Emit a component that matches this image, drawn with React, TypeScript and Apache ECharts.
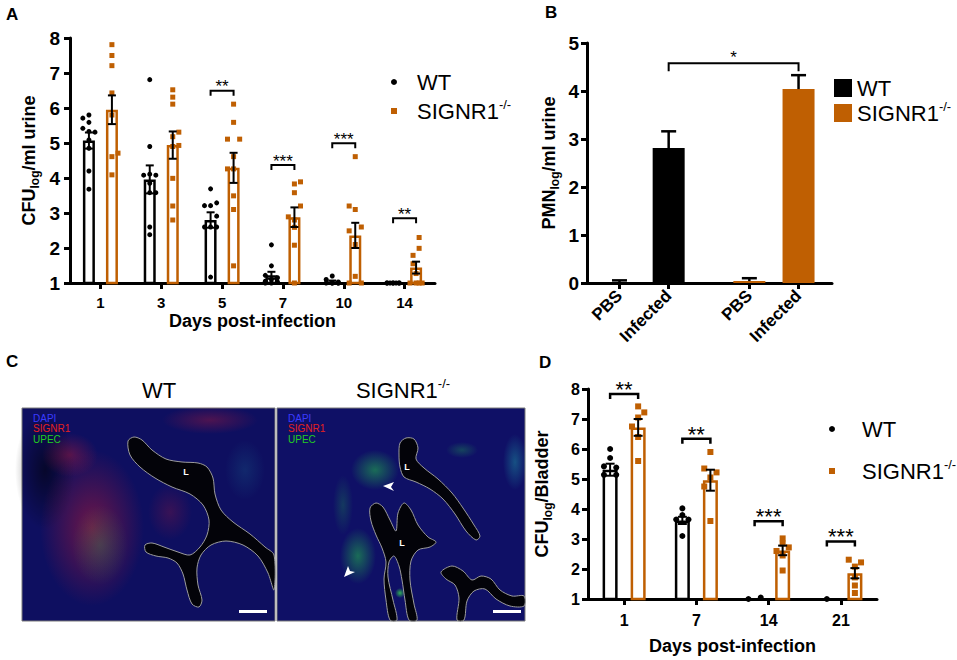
import React, { useEffect, useRef } from "react";
import * as echarts from "echarts";

const FONT = "'Liberation Sans', Arial, Helvetica, sans-serif";
const INK = "#000000";
const ORANGE = "#BF5F02";
const SQUARE_ICON = "path://M0 0H10V10H0Z";

// ---------- Panel A: CFU in urine ----------
const A_DAYS = ["1", "3", "5", "7", "10", "14"];
const A_WT_MEAN = [5.07, 3.96, 2.8, 1.22, 1.04, 1.0];
const A_WT_SEM = [0.23, 0.4, 0.22, 0.1, 0.03, 0];
const A_KO_MEAN = [5.95, 4.94, 4.29, 2.88, 2.36, 1.44];
const A_KO_SEM = [0.41, 0.39, 0.43, 0.28, 0.36, 0.17];
// [value, jitter step]
const A_WT_POINTS = [
  [[5.8, 0], [5.71, -1], [5.59, 0], [5.42, -1], [5.33, 0], [5.31, 1], [5.09, 0], [4.85, 0], [4.2, 0], [3.68, 0]],
  [[6.81, 0], [4.9, 0], [4.11, 0], [4.08, -1], [4.08, 1], [3.85, 0], [3.58, 0], [3.58, 1], [2.6, 0], [2.38, 0]],
  [[3.69, 0], [3.29, 1], [3.21, -1], [3.21, 0], [2.91, 1], [2.6, -1], [2.6, 0], [2.6, 1], [1.17, 0]],
  [[2.09, 0], [1.49, 0], [1.22, -1], [1.15, 1], [1.1, 0], [1.05, -1], [1.03, 1], [1.0, 0], [1.0, -1]],
  [[1.2, 0], [1.1, -1], [1.03, 1], [1.0, 0], [1.0, -1], [1.0, 1], [1.0, 0], [1.0, 1]],
  [[1.0, -1], [1.0, -0.5], [1.0, 0], [1.0, 0.5], [1.0, 1], [1.0, -1], [1.0, 0], [1.0, 1]],
];
const A_KO_POINTS = [
  [[7.81, 0], [7.5, 0], [7.21, 0], [6.43, 0], [5.8, 0], [4.71, 1], [4.61, 0], [4.09, 0]],
  [[6.52, 0], [6.31, 0], [6.11, 0], [5.31, 1], [5.18, 0], [4.93, 1], [4.9, 0], [3.99, 0], [3.2, 0], [2.8, 0]],
  [[6.11, 0], [5.59, 0], [5.11, -1], [5.11, 1], [4.61, 0], [4.26, -1], [4.26, 0], [3.49, 0], [3.1, 0], [1.49, 0]],
  [[3.89, 1], [3.83, 0], [3.58, 0], [3.2, 1], [2.89, -1], [2.8, 0], [2.59, 0], [2.08, 0], [1.0, 0]],
  [[4.61, 0], [3.2, -1], [3.1, 0], [2.6, 1], [2.49, -1], [2.1, 0], [1.19, 0], [1.0, -1], [1.0, 1]],
  [[2.3, 0.5], [1.99, 0.5], [1.79, -0.5], [1.55, -0.5], [1.27, 0], [1.0, -1], [1.0, 0], [1.0, 1], [1.0, 0.5]],
];
const A_SIG_DAY = [2, 3, 4, 5];
const A_SIG_Y = [6.49, 4.37, 4.99, 2.85];
const A_SIG_TEXT = ["**", "***", "***", "**"];

// ---------- Panel B: PMN in urine ----------
const B_LABELS = ["PBS", "Infected", "PBS", "Infected"];
const B_POS = [0, 1, 2.64, 3.64];
const B_WT_MEAN = [0.02, 2.81];
const B_WT_SEM = [0.035, 0.35];
const B_KO_MEAN = [0.04, 4.04];
const B_KO_SEM = [0.06, 0.29];
const B_SIG_FROM = [1];
const B_SIG_TO = [3.64];
const B_SIG_Y = [4.58];
const B_SIG_TEXT = ["*"];

// ---------- Panel D: CFU in bladder ----------
const D_DAYS = ["1", "7", "14", "21"];
const D_WT_MEAN = [5.31, 3.62, 1.0, 1.0];
const D_WT_SEM = [0.2, 0.12, 0, 0];
const D_KO_MEAN = [6.72, 4.96, 2.62, 1.86];
const D_KO_SEM = [0.28, 0.35, 0.16, 0.17];
const D_WT_POINTS = [
  [[6.0, 0], [5.7, 0], [5.42, -1], [5.38, 1], [5.14, -1], [5.14, 1]],
  [[4.02, 0], [3.8, 0], [3.65, -1], [3.65, 1], [3.1, 0]],
  [[1.0, -1], [1.05, 1]],
  [[1.0, 0]],
];
const D_KO_POINTS = [
  [[7.42, 0], [7.22, 1], [7.05, 0], [6.75, -1], [6.4, 0], [5.6, 0]],
  [[5.9, 0], [5.35, -1], [5.22, 1], [5.05, 0], [4.75, -1], [3.6, 0]],
  [[3.02, 0], [2.85, 0], [2.72, 1], [2.6, -1], [2.45, 0], [1.95, 0]],
  [[2.31, -1], [2.22, 1], [2.08, 0], [1.72, 0], [1.45, 0], [1.2, 0]],
];
const D_SIG_DAY = [0, 1, 2, 3];
const D_SIG_Y = [7.83, 6.34, 3.59, 2.92];
const D_SIG_TEXT = ["**", "**", "***", "***"];

// group offsets (in category units) and jitter step
const A_OFF = 0.189;
const A_JIT = 0.1;
const D_OFF = 0.194;
const D_JIT = 0.085;

function pointsData(groups: number[][][], off: number, jit: number) {
  const out: number[][] = [];
  groups.forEach((pts, i) => pts.forEach(([v, j]) => out.push([i + off + j * jit, v])));
  return out;
}

function errorBars(id: string, xi: number, yi: number, xs: number[], means: number[], sems: number[], cap: number, lw: number, oneSided: boolean) {
  return {
    type: "custom",
    id,
    xAxisIndex: xi,
    yAxisIndex: yi,
    silent: true,
    z: 6,
    encode: { x: 0, y: 1 },
    data: means.map((m, i) => [xs[i], m, sems[i]]),
    renderItem: (params: any, api: any) => {
      const x = api.value(0);
      const m = api.value(1);
      const s = api.value(2);
      if (!(s > 0)) return { type: "group", children: [] };
      const top = api.coord([x, m + s]);
      const bot = api.coord([x, oneSided ? m : m - s]);
      const st = () => ({ stroke: INK, lineWidth: lw, fill: null });
      const kids: any[] = [
        { type: "line", shape: { x1: top[0], y1: top[1], x2: bot[0], y2: bot[1] }, style: st() },
        { type: "line", shape: { x1: top[0] - cap, y1: top[1], x2: top[0] + cap, y2: top[1] }, style: st() },
      ];
      if (!oneSided) kids.push({ type: "line", shape: { x1: bot[0] - cap, y1: bot[1], x2: bot[0] + cap, y2: bot[1] }, style: st() });
      return { type: "group", children: kids };
    },
  };
}

function brackets(id: string, xi: number, yi: number, x1: number[], x2: number[], ys: number[], texts: string[], drop: number, lw: number, fs: number, gap: number) {
  return {
    type: "custom",
    id,
    xAxisIndex: xi,
    yAxisIndex: yi,
    silent: true,
    z: 6,
    encode: { x: [0, 1], y: 2 },
    data: ys.map((y, i) => [x1[i], x2[i], y]),
    renderItem: (params: any, api: any) => {
      const a = api.coord([api.value(0), api.value(2)]);
      const b = api.coord([api.value(1), api.value(2)]);
      return {
        type: "group",
        children: [
          { type: "polyline", shape: { points: [[a[0], a[1] + drop], [a[0], a[1]], [b[0], b[1]], [b[0], b[1] + drop]] }, style: { stroke: INK, lineWidth: lw, fill: null } },
          {
            type: "text",
            x: (a[0] + b[0]) / 2,
            y: a[1] - gap,
            style: { text: texts[params.dataIndex], fill: INK, fontSize: fs, fontFamily: FONT, align: "center", verticalAlign: "middle", textAlign: "center", textVerticalAlign: "middle" },
          },
        ],
      };
    },
  };
}

const axLine = { show: true, onZero: false, lineStyle: { color: INK, width: 3 } };
const axTick = { show: true, length: 6, inside: false, lineStyle: { color: INK, width: 3 } };
const boldLabel = (fs: number, margin: number) => ({ color: INK, fontSize: fs, fontWeight: "bold", fontFamily: FONT, margin });

const subRich = {
  n: { fontSize: 18, fontWeight: "bold", fontFamily: FONT, color: INK, lineHeight: 24, verticalAlign: "middle" },
  s: { fontSize: 12, fontWeight: "bold", fontFamily: FONT, color: INK, lineHeight: 12, verticalAlign: "bottom" },
};
const supRich = {
  sup: { fontSize: 13, fontFamily: FONT, color: INK, lineHeight: 13, verticalAlign: "top" },
};
const legendFormatter = (n: string) => (n === "SIGNR1" ? "SIGNR1{sup|-/-}" : n);
const legendText = { color: INK, fontSize: 22, fontFamily: FONT, lineHeight: 26, rich: supRich };

function glow(cx: number, cy: number, rx: number, ry: number, rgb: string, a: number) {
  return {
    type: "ellipse",
    silent: true,
    shape: { cx, cy, rx, ry },
    style: {
      fill: { type: "radial", x: 0.5, y: 0.5, r: 0.5, colorStops: [{ offset: 0, color: `rgba(${rgb},${a})` }, { offset: 1, color: `rgba(${rgb},0)` }] },
    },
  };
}
function lumen(points: number[][]) {
  return { type: "polygon", silent: true, shape: { points, smooth: 0.3 }, style: { fill: "#030309", stroke: "#9c9c9c", lineWidth: 1 } };
}
function label(x: number, y: number, text: string, style: any) {
  return { type: "text", x, y, silent: true, style: { text, fontFamily: FONT, fill: INK, ...style } };
}

function buildGraphic() {
  const els: any[] = [];
  const letter = { fontSize: 17, fontWeight: "bold", verticalAlign: "top", textVerticalAlign: "top" };
  els.push(label(6, 6, "A", letter));
  els.push(label(545, 4, "B", letter));
  els.push(label(6, 353, "C", letter));
  els.push(label(539, 354, "D", letter));
  // panel C titles
  els.push(label(159, 390, "WT", { fontSize: 22, align: "center", textAlign: "center", verticalAlign: "middle", textVerticalAlign: "middle" }));
  els.push(label(403, 390, "SIGNR1{sup|-/-}", { fontSize: 22, lineHeight: 26, rich: supRich, align: "center", textAlign: "center", verticalAlign: "middle", textVerticalAlign: "middle" }));
  // tissue images (stand-ins)
  els.push({ type: "rect", silent: true, shape: { x: 22, y: 408, width: 253, height: 213 }, style: { fill: "#0e0f60", stroke: "#7a7a7a", lineWidth: 1 } });
  els.push({ type: "rect", silent: true, shape: { x: 277, y: 408, width: 248, height: 213 }, style: { fill: "#0f1066", stroke: "#7a7a7a", lineWidth: 1 } });
  // WT tints
  els.push(glow(45, 470, 30, 60, "0,0,0", 0.55));
  els.push(glow(92, 528, 52, 78, "225,30,45", 0.45));
  els.push(glow(70, 455, 28, 22, "225,30,45", 0.35));
  els.push(glow(210, 420, 48, 14, "225,30,45", 0.3));
  els.push(glow(170, 512, 22, 28, "225,30,45", 0.2));
  els.push(glow(100, 545, 28, 40, "40,210,80", 0.22));
  els.push(glow(245, 470, 20, 30, "40,220,200", 0.12));
  // SIGNR1 tints
  els.push(glow(375, 470, 24, 20, "40,220,70", 0.45));
  els.push(glow(358, 556, 18, 28, "40,220,70", 0.45));
  els.push(glow(405, 531, 7, 7, "60,240,80", 0.8));
  els.push(glow(400, 593, 5, 5, "60,240,80", 0.7));
  els.push(glow(462, 450, 16, 8, "40,220,70", 0.25));
  els.push(glow(515, 462, 12, 28, "40,230,200", 0.3));
  els.push(glow(343, 505, 10, 30, "40,220,70", 0.2));
  // lumens
  els.push(lumen([[128, 441], [134, 437], [142, 440], [152, 450], [166, 459], [182, 462], [198, 463], [207, 467], [213, 478], [215, 494], [221, 510], [233, 522], [250, 534], [265, 547], [274, 555], [274, 590], [268, 573], [258, 556], [243, 545], [226, 541], [211, 545], [201, 555], [197, 568], [198, 585], [202, 600], [199, 607], [192, 604], [187, 590], [183, 574], [177, 563], [168, 558], [156, 556], [146, 552], [145, 545], [152, 543], [164, 547], [178, 552], [190, 555], [200, 547], [207, 535], [209, 520], [203, 505], [190, 494], [172, 487], [155, 478], [140, 467], [130, 455]]));
  els.push(lumen([[400, 443], [406, 438], [414, 439], [418, 448], [416, 459], [424, 468], [438, 479], [452, 493], [463, 508], [474, 525], [480, 536], [476, 540], [466, 531], [455, 514], [443, 499], [430, 489], [416, 482], [404, 477], [400, 467], [399, 455]]));
  els.push(lumen([[370, 508], [376, 503], [383, 507], [390, 520], [396, 531], [398, 513], [404, 503], [411, 510], [418, 525], [428, 537], [436, 542], [430, 547], [418, 550], [411, 561], [410, 580], [414, 604], [417, 620], [409, 620], [405, 600], [402, 580], [399, 566], [394, 556], [389, 562], [388, 577], [393, 600], [397, 620], [390, 620], [386, 600], [384, 579], [386, 562], [382, 548], [376, 535], [371, 521]]));
  els.push(lumen([[441, 572], [452, 566], [463, 571], [472, 580], [481, 576], [491, 579], [500, 590], [512, 596], [524, 596], [524, 606], [510, 606], [496, 599], [485, 589], [474, 591], [467, 601], [464, 620], [457, 620], [459, 598], [455, 585], [446, 579]]));
  // L labels
  const lStyle = { fontSize: 9, fontWeight: "bold", fill: "#ffffff", align: "center", textAlign: "center", verticalAlign: "middle", textVerticalAlign: "middle" };
  els.push(label(186, 472, "L", lStyle));
  els.push(label(407, 467, "L", lStyle));
  els.push(label(402, 543, "L", lStyle));
  // arrowheads
  els.push({ type: "polygon", silent: true, shape: { points: [[383, 486], [394, 482], [391, 487], [394, 491]] }, style: { fill: "#ffffff" } });
  els.push({ type: "polygon", silent: true, shape: { points: [[344, 577], [348, 566], [350, 571], [355, 572]] }, style: { fill: "#ffffff" } });
  // stain legends
  const stain = (x: number) => [
    label(x, 418, "DAPI", { fontSize: 10, fill: "#3b3bff", verticalAlign: "middle", textVerticalAlign: "middle" }),
    label(x, 428.5, "SIGNR1", { fontSize: 10, fill: "#e42020", verticalAlign: "middle", textVerticalAlign: "middle" }),
    label(x, 439, "UPEC", { fontSize: 10, fill: "#22cc22", verticalAlign: "middle", textVerticalAlign: "middle" }),
  ];
  els.push(...stain(33), ...stain(288));
  // scale bars
  els.push({ type: "rect", silent: true, shape: { x: 239, y: 610, width: 28, height: 3 }, style: { fill: "#ffffff" } });
  els.push({ type: "rect", silent: true, shape: { x: 493, y: 610, width: 28, height: 3 }, style: { fill: "#ffffff" } });
  return els;
}

function legendData(dotIcon: string) {
  return [
    { name: "WT", icon: dotIcon, itemStyle: { color: INK, borderWidth: 0, opacity: 1 } },
    { name: "SIGNR1", icon: SQUARE_ICON, itemStyle: { color: ORANGE, borderWidth: 0, opacity: 1 } },
  ];
}

function buildOption(): any {
  const idxA = A_DAYS.map((_, i) => i);
  const idxD = D_DAYS.map((_, i) => i);
  return {
    animation: false,
    backgroundColor: "#ffffff",
    textStyle: { fontFamily: FONT },
    grid: [
      { left: 70, top: 38, width: 365, height: 245, outerBoundsMode: "none", containLabel: false },
      { left: 587, top: 43, width: 245, height: 240, outerBoundsMode: "none", containLabel: false },
      { left: 588, top: 389, width: 289, height: 210, outerBoundsMode: "none", containLabel: false },
    ],
    xAxis: [
      {
        type: "category", gridIndex: 0, data: A_DAYS,
        axisLine: axLine, axisTick: { ...axTick, alignWithLabel: true }, axisLabel: boldLabel(15, 12),
        splitLine: { show: false },
        name: "Days post-infection", nameLocation: "middle", nameGap: 29,
        nameTextStyle: { fontSize: 18, fontWeight: "bold", color: INK, fontFamily: FONT, verticalAlign: "top" },
      },
      { type: "value", gridIndex: 0, min: -0.5, max: 5.5, show: false },
      {
        type: "value", gridIndex: 1, min: -0.66, max: 4.32,
        axisLine: axLine,
        axisTick: { ...axTick, customValues: B_POS },
        axisLabel: {
          ...boldLabel(17, 10), rotate: 45, customValues: B_POS,
          formatter: (v: number) => {
            const k = B_POS.findIndex((p) => Math.abs(p - v) < 1e-6);
            return k >= 0 ? B_LABELS[k] : "";
          },
        },
        splitLine: { show: false },
      },
      {
        type: "category", gridIndex: 2, data: D_DAYS,
        axisLine: axLine, axisTick: { ...axTick, alignWithLabel: true }, axisLabel: boldLabel(16, 13),
        splitLine: { show: false },
        name: "Days post-infection", nameLocation: "middle", nameGap: 38,
        nameTextStyle: { fontSize: 18, fontWeight: "bold", color: INK, fontFamily: FONT, verticalAlign: "top" },
      },
      { type: "value", gridIndex: 2, min: -0.5, max: 3.5, show: false },
    ],
    yAxis: [
      {
        type: "value", gridIndex: 0, min: 1, max: 8, interval: 1,
        axisLine: axLine, axisTick: axTick, axisLabel: boldLabel(19, 10), splitLine: { show: false },
        name: "{n|CFU}{s|log}{n|/ml urine}", nameLocation: "middle", nameRotate: 90, nameGap: 29,
        nameTextStyle: { rich: subRich },
      },
      {
        type: "value", gridIndex: 1, min: 0, max: 5, interval: 1,
        axisLine: axLine, axisTick: axTick, axisLabel: boldLabel(19, 8), splitLine: { show: false },
        name: "{n|PMN}{s|log}{n|/ml urine}", nameLocation: "middle", nameRotate: 90, nameGap: 26,
        nameTextStyle: { rich: subRich },
      },
      {
        type: "value", gridIndex: 2, min: 1, max: 8, interval: 1,
        axisLine: axLine, axisTick: axTick, axisLabel: boldLabel(16, 8), splitLine: { show: false },
        name: "{n|CFU}{s|log}{n|/Bladder}", nameLocation: "middle", nameRotate: 90, nameGap: 34,
        nameTextStyle: { rich: subRich },
      },
    ],
    legend: [
      {
        left: 391, top: 69, orient: "vertical", padding: 0, itemWidth: 36, itemHeight: 6, itemGap: 3, selectedMode: false,
        data: legendData("circle"), formatter: legendFormatter, textStyle: legendText,
      },
      {
        left: 834, top: 75, orient: "vertical", padding: 0, itemWidth: 18, itemHeight: 18, itemGap: -1, selectedMode: false,
        data: [
          { name: "WT", icon: SQUARE_ICON, itemStyle: { color: INK, borderWidth: 0, opacity: 1 } },
          { name: "SIGNR1", icon: SQUARE_ICON, itemStyle: { color: ORANGE, borderWidth: 0, opacity: 1 } },
        ],
        formatter: legendFormatter, textStyle: legendText,
      },
      {
        left: 829, top: 416, orient: "vertical", padding: 0, itemWidth: 50, itemHeight: 6, itemGap: 16, selectedMode: false,
        data: legendData("circle"), formatter: legendFormatter, textStyle: legendText,
      },
    ],
    series: [
      // ---- A ----
      { type: "scatter", name: "WT", xAxisIndex: 1, yAxisIndex: 0, z: 4, symbol: "circle", symbolSize: 5, itemStyle: { color: INK, opacity: 1 }, data: pointsData(A_WT_POINTS, -A_OFF, A_JIT) },
      { type: "scatter", name: "SIGNR1", xAxisIndex: 1, yAxisIndex: 0, z: 4, symbol: "rect", symbolSize: 5, itemStyle: { color: ORANGE, opacity: 1 }, data: pointsData(A_KO_POINTS, A_OFF, A_JIT) },
      { type: "bar", name: "WT", xAxisIndex: 0, yAxisIndex: 0, z: 2, barWidth: 12, barGap: "92%", clip: true, itemStyle: { color: "#ffffff", borderColor: INK, borderWidth: 2.5 }, data: A_WT_MEAN },
      { type: "bar", name: "SIGNR1", xAxisIndex: 0, yAxisIndex: 0, z: 2, barWidth: 12, barGap: "92%", clip: true, itemStyle: { color: "#ffffff", borderColor: ORANGE, borderWidth: 2.5 }, data: A_KO_MEAN },
      errorBars("errAwt", 1, 0, idxA.map((i) => i - A_OFF), A_WT_MEAN, A_WT_SEM, 4, 2, false),
      errorBars("errAko", 1, 0, idxA.map((i) => i + A_OFF), A_KO_MEAN, A_KO_SEM, 4, 2, false),
      brackets("sigA", 1, 0, A_SIG_DAY.map((d) => d - A_OFF), A_SIG_DAY.map((d) => d + A_OFF), A_SIG_Y, A_SIG_TEXT, 5, 2, 17, 4),
      // ---- B ----
      { type: "bar", name: "WT", xAxisIndex: 2, yAxisIndex: 1, z: 2, barWidth: 32, barGap: "-100%", itemStyle: { color: INK }, data: B_WT_MEAN.map((v, i) => [B_POS[i], v]) },
      { type: "bar", name: "SIGNR1", xAxisIndex: 2, yAxisIndex: 1, z: 2, barWidth: 32, barGap: "-100%", itemStyle: { color: ORANGE }, data: B_KO_MEAN.map((v, i) => [B_POS[i + 2], v]) },
      errorBars("errBwt", 2, 1, B_POS.slice(0, 2), B_WT_MEAN, B_WT_SEM, 7.5, 2.5, true),
      errorBars("errBko", 2, 1, B_POS.slice(2), B_KO_MEAN, B_KO_SEM, 7.5, 2.5, true),
      brackets("sigB", 2, 1, B_SIG_FROM, B_SIG_TO, B_SIG_Y, B_SIG_TEXT, 8, 2, 17, 6),
      // ---- D ----
      { type: "scatter", name: "WT", xAxisIndex: 4, yAxisIndex: 2, z: 4, symbol: "circle", symbolSize: 6, itemStyle: { color: INK, opacity: 1 }, data: pointsData(D_WT_POINTS, -D_OFF, D_JIT) },
      { type: "scatter", name: "SIGNR1", xAxisIndex: 4, yAxisIndex: 2, z: 4, symbol: "rect", symbolSize: 6, itemStyle: { color: ORANGE, opacity: 1 }, data: pointsData(D_KO_POINTS, D_OFF, D_JIT) },
      { type: "bar", name: "WT", xAxisIndex: 3, yAxisIndex: 2, z: 2, barWidth: 15, barGap: "87%", clip: true, itemStyle: { color: "#ffffff", borderColor: INK, borderWidth: 2.5 }, data: D_WT_MEAN },
      { type: "bar", name: "SIGNR1", xAxisIndex: 3, yAxisIndex: 2, z: 2, barWidth: 15, barGap: "87%", clip: true, itemStyle: { color: "#ffffff", borderColor: ORANGE, borderWidth: 2.5 }, data: D_KO_MEAN },
      errorBars("errDwt", 4, 2, idxD.map((i) => i - D_OFF), D_WT_MEAN, D_WT_SEM, 4.5, 2, false),
      errorBars("errDko", 4, 2, idxD.map((i) => i + D_OFF), D_KO_MEAN, D_KO_SEM, 4.5, 2, false),
      brackets("sigD", 4, 2, D_SIG_DAY.map((d) => d - D_OFF), D_SIG_DAY.map((d) => d + D_OFF), D_SIG_Y, D_SIG_TEXT, 5, 2.5, 22, 4.5),
    ],
    graphic: { elements: buildGraphic() },
  };
}

export default function App() {
  const ref = useRef<HTMLDivElement>(null);
  useEffect(() => {
    if (!ref.current) return;
    const chart = echarts.init(ref.current, null, { renderer: "svg" });
    chart.setOption(buildOption());
    return () => chart.dispose();
  }, []);
  return <div ref={ref} style={{ position: "fixed", left: 0, top: 0, width: 957, height: 660, background: "#ffffff" }} />;
}
